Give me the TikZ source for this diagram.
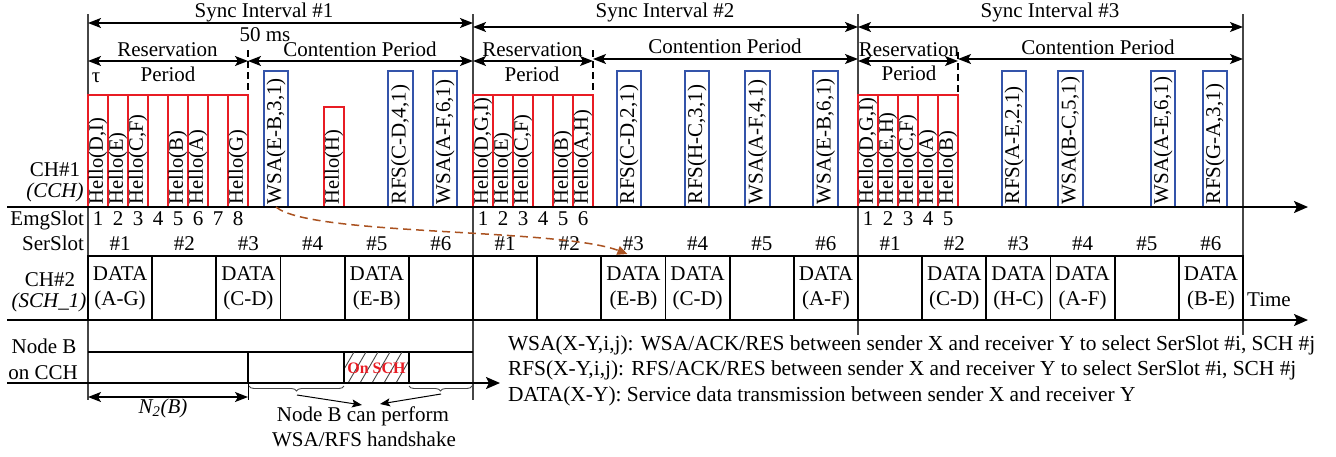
\documentclass[tikz,border=0pt]{standalone}
\usepackage{fontspec}
\usepackage{graphicx}
\setmainfont{Liberation Serif}
\usetikzlibrary{arrows.meta,decorations.pathreplacing}
\definecolor{hred}{RGB}{232,28,36}
\definecolor{wblue}{RGB}{52,84,170}
\definecolor{cbrown}{RGB}{170,82,32}
\definecolor{lgray}{RGB}{70,70,70}
\newcommand\fs{\fontsize{21pt}{25pt}\selectfont}
\newcommand\fsh{\fontsize{20.5pt}{24pt}\selectfont}
\newcommand\fsl{\fontsize{21.4pt}{25pt}\selectfont}
\newcommand\vtxt[1]{\rotatebox{90}{#1}}
\begin{document}
\begin{tikzpicture}[x=1pt,y=-1pt,
  every node/.style={font=\fs, inner sep=0pt, outer sep=0pt},
  lbl/.style={anchor=base},
  hellobox/.style={draw=hred, line width=1.8pt, anchor=south, minimum width=20pt, minimum height=#1},
  hellobox/.default=112pt,
  wsabox/.style={draw=wblue, line width=1.8pt, anchor=south, minimum width=24.5pt, minimum height=136pt},
  rottxt/.style={anchor=south},
  databox/.style={draw, line width=1.8pt, minimum width=64.17pt, minimum height=64pt,
    anchor=south west, align=center},
  syncline/.style={lgray, line width=1.2pt},
  dimarrow/.style={line width=1.4pt, {Stealth[length=13pt,width=10pt,inset=3pt]}-{Stealth[length=13pt,width=10pt,inset=3pt]}},
  axisline/.style={line width=2pt, -{Stealth[length=14pt,width=12pt,inset=3pt]}},
  sepdash/.style={line width=1.2pt, dash pattern=on 7pt off 4pt},
  ptr/.style={line width=1pt, -{Stealth[length=10pt,width=8pt,inset=2pt]}},
  legend/.style={anchor=base west, font=\fsl},
]
\useasboundingbox (0,0) rectangle (1336,456);

% sync interval boundaries
\draw[syncline] (88,14) -- (88,400);
\draw[syncline] (473,14) -- (473,400);
\draw[syncline] (858,14) -- (858,335);
\draw[syncline] (1243,14) -- (1243,335);

% top dimension arrows
\draw[dimarrow] (88,23) -- (473,23);
\draw[dimarrow] (473,27) -- (858,27);
\draw[dimarrow] (858,27) -- (1243,27);
\draw[dimarrow] (88,61) -- (248,61);
\draw[dimarrow] (248,61) -- (473,61);
\draw[dimarrow] (473,61) -- (593,61);
\draw[dimarrow] (593,59) -- (858,59);
\draw[dimarrow] (858,61) -- (958,61);
\draw[dimarrow] (958,59) -- (1243,59);
\draw[sepdash] (248,50) -- (248,95);
\draw[sepdash] (593,50) -- (593,95);
\draw[sepdash] (958,52) -- (958,95);

\node[lbl] (si1) at (264,17) {Sync Interval \#1};
\node[lbl] (si2) at (665,17) {Sync Interval \#2};
\node[lbl] (si3) at (1050,17) {Sync Interval \#3};
\node[lbl] (ms) at (265,41) {50 ms};
\node[lbl] (rp1) at (167.5,56) {Reservation};
\node[lbl] (rq1) at (168,81) {Period};
\node[lbl] (rp2) at (532.5,56) {Reservation};
\node[lbl] (rq2) at (532,81) {Period};
\node[lbl] (rp3) at (909,56) {Reservation};
\node[lbl] (rq3) at (909,80) {Period};
\node[lbl] (cp1) at (360,56) {Contention Period};
\node[lbl] (cp2) at (725,53) {Contention Period};
\node[lbl] (cp3) at (1098,54) {Contention Period};
\node[lbl] (tau) at (96,82) {τ};

% Hello boxes
\foreach \i/\t in {1/{Hello(D,I)},2/{Hello(E)},3/{Hello(C,F)},4/{},5/{Hello(B)},6/{Hello(A)},7/{},8/{Hello(G)}} {
  \node[hellobox] (ha\i) at ({78+20*\i},207) {};
  \node[rottxt, font=\fsh] (hta\i) at ([yshift=3pt]ha\i.south) {\vtxt{\t}};
}
\foreach \i/\t in {1/{Hello(D,G,I)},2/{Hello(E)},3/{Hello(C,F)},4/{},5/{Hello(B)},6/{Hello(A,H)}} {
  \node[hellobox] (hb\i) at ({463+20*\i},207) {};
  \node[rottxt, font=\fsh] (htb\i) at ([yshift=3pt]hb\i.south) {\vtxt{\t}};
}
\foreach \i/\t in {1/{Hello(D,G,I)},2/{Hello(E,H)},3/{Hello(C,F)},4/{Hello(A)},5/{Hello(B)}} {
  \node[hellobox] (hc\i) at ({848+20*\i},207) {};
  \node[rottxt, font=\fsh] (htc\i) at ([yshift=3pt]hc\i.south) {\vtxt{\t}};
}
\node[hellobox=100pt] (hh) at (334,207) {};
\node[rottxt, font=\fsh] (hth) at ([yshift=3pt]hh.south) {\vtxt{Hello(H)}};

% WSA / RFS boxes
\foreach \n/\cx/\t in {w1/276/{WSA(E-B,3,1)}, w2/400.5/{RFS(C-D,4,1)}, w3/445/{WSA(A-F,6,1)},
  w4/629/{RFS(C-D,2,1)}, w5/697/{RFS(H-C,3,1)}, w6/757.5/{WSA(A-F,4,1)}, w7/825.5/{WSA(E-B,6,1)},
  w8/1014/{RFS(A-E,2,1)}, w9/1070.5/{WSA(B-C,5,1)}, w10/1163/{WSA(A-E,6,1)}, w11/1215/{RFS(G-A,3,1)}} {
  \node[wsabox] (\n) at (\cx,207) {};
  \node[rottxt] (t\n) at ([yshift=3pt]\n.south) {\vtxt{\t}};
}

% CH#2 data boxes
\foreach \n/\x/\t in {d11/88/{DATA\\(A-G)}, d12/152.17/{}, d13/216.33/{DATA\\(C-D)}, d14/280.5/{},
  d15/344.67/{DATA\\(E-B)}, d16/408.83/{},
  d21/473/{}, d22/537.17/{}, d23/601.33/{DATA\\(E-B)}, d24/665.5/{DATA\\(C-D)},
  d25/729.67/{}, d26/793.83/{DATA\\(A-F)},
  d31/858/{}, d32/922.17/{DATA\\(C-D)}, d33/986.33/{DATA\\(H-C)}, d34/1050.5/{DATA\\(A-F)},
  d35/1114.67/{}, d36/1178.83/{DATA\\(B-E)}}
  \node[databox] (\n) at (\x,320) {\t};

% slot numbers
\foreach \i in {1,...,8} \node[lbl] (ea\i) at ({78+20*\i},225) {\i};
\foreach \i in {1,...,6} \node[lbl] (eb\i) at ({463+20*\i},225) {\i};
\foreach \i in {1,...,5} \node[lbl] (ec\i) at ({848+20*\i},225) {\i};
\foreach \i in {1,...,6} {
  \node[lbl] (sa\i) at ({88+64.17*(\i-0.5)},250) {\#\i};
  \node[lbl] (sb\i) at ({473+64.17*(\i-0.5)},250) {\#\i};
  \node[lbl] (sc\i) at ({858+64.17*(\i-0.5)},250) {\#\i};
}

% left labels
\node[lbl] (ch1) at (55,176) {CH\#1};
\node[lbl] (cch) at (55,197) {\itshape (CCH)};
\node[anchor=base east] (emg) at (84,225) {EmgSlot};
\node[anchor=base east] (ser) at (84,250) {SerSlot};
\node[lbl] (ch2) at (50,286) {CH\#2};
\node[lbl] (sch) at (49,307) {\itshape (SCH\_1)};
\node[lbl] (nodeb) at (44,353) {Node B};
\node[lbl] (oncch) at (43,379) {on CCH};
\node[lbl] (time) at (1269,306) {Time};

% Node B on CCH row
\draw[line width=1.5pt] (88,352) -- (473,352);
\begin{scope}
  \clip (344,352) rectangle (409,383);
  \foreach \k in {-2,...,6} \draw[lgray, line width=0.9pt] ({336+12*\k},383) -- ++(18,-31);
\end{scope}
\node[anchor=base, font=\fontsize{16pt}{18pt}\selectfont\bfseries, text=hred] (onsch) at (376.5,373) {On SCH};
\draw[line width=1.8pt] (248,352) -- (248,383);
\draw[line width=1.8pt] (344,352) -- (344,383);
\draw[line width=1.8pt] (409,352) -- (409,383);
\draw[line width=1pt] (248,383) -- (248,400);

% axes
\draw[axisline] (7,207) -- (1308,207);
\draw[axisline] (7,320) -- (1308,320);
\draw[axisline] (7,383) -- (500,383);

% N2(B)
\draw[dimarrow] (88,397) -- (248,397);
\node[lbl] (n2b) at (163,413) {\itshape N\textsubscript{2}(B)};

% braces and note
\draw[lgray, line width=0.9pt, decorate, decoration={brace, mirror, amplitude=5pt}] (249,386) -- (344,386);
\draw[lgray, line width=0.9pt, decorate, decoration={brace, mirror, amplitude=5pt}] (409,386) -- (472,386);
\coordinate (bt1) at (297,395);
\coordinate (bt2) at (441,394);
\node[lbl] (nb1) at (363,421) {Node B can perform};
\node[lbl] (nb2) at (364,446) {WSA/RFS handshake};
\draw[ptr] (bt1) -- (362,405);
\draw[ptr] (bt2) -- (380,404);

% brown dashed link
\draw[cbrown, line width=1.5pt, dash pattern=on 8pt off 5pt, -{Triangle[length=10pt,width=9pt]}]
  (w1.south) .. controls (310,236) and (560,228) .. ([xshift=-6pt,yshift=2pt]d23.north);

% legend
\node[legend] (leg1) at (508,350) {WSA(X-Y,i,j): WSA/ACK/RES between sender X and receiver Y to select SerSlot \#i, SCH \#j};
\node[legend] (leg2) at (508,375) {RFS(X-Y,i,j): RFS/ACK/RES between sender X and receiver Y to select SerSlot \#i, SCH \#j};
\node[legend] (leg3) at (508,401) {DATA(X-Y): Service data transmission between sender X and receiver Y};
\end{tikzpicture}
\end{document}
